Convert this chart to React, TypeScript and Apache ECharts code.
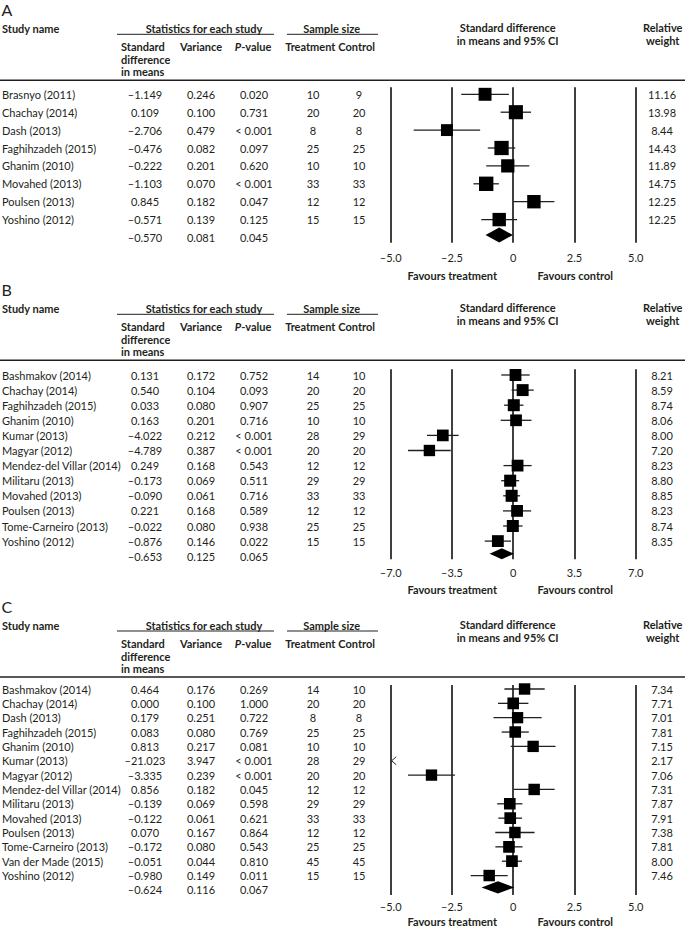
import React, { useEffect, useRef } from "react";
import * as echarts from "echarts";

// ---------------- Panel A ----------------
const studiesA = ["Brasnyo (2011)", "Chachay (2014)", "Dash (2013)", "Faghihzadeh (2015)", "Ghanim (2010)", "Movahed (2013)", "Poulsen (2013)", "Yoshino (2012)"];
const smdA = [-1.149, 0.109, -2.706, -0.476, -0.222, -1.103, 0.845, -0.571];
const varA = [0.246, 0.1, 0.479, 0.082, 0.201, 0.07, 0.182, 0.139];
const pA = ["0.020", "0.731", "< 0.001", "0.097", "0.620", "< 0.001", "0.047", "0.125"];
const treatA = [10, 20, 8, 25, 10, 33, 12, 15];
const ctrlA = [9, 20, 8, 25, 10, 33, 12, 15];
const weightA = [11.16, 13.98, 8.44, 14.43, 11.89, 14.75, 12.25, 12.25];
const summaryA = [-0.57, 0.081];
const summaryPA = "0.045";
const ticksA = [-5, -2.5, 0, 2.5, 5];
const tickLabelsA = ["–5.0", "–2.5", "0", "2.5", "5.0"];

// ---------------- Panel B ----------------
const studiesB = ["Bashmakov (2014)", "Chachay (2014)", "Faghihzadeh (2015)", "Ghanim (2010)", "Kumar (2013)", "Magyar (2012)", "Mendez-del Villar (2014)", "Militaru (2013)", "Movahed (2013)", "Poulsen (2013)", "Tome-Carneiro (2013)", "Yoshino (2012)"];
const smdB = [0.131, 0.54, 0.033, 0.163, -4.022, -4.789, 0.249, -0.173, -0.09, 0.221, -0.022, -0.876];
const varB = [0.172, 0.104, 0.08, 0.201, 0.212, 0.387, 0.168, 0.069, 0.061, 0.168, 0.08, 0.146];
const pB = ["0.752", "0.093", "0.907", "0.716", "< 0.001", "< 0.001", "0.543", "0.511", "0.716", "0.589", "0.938", "0.022"];
const treatB = [14, 20, 25, 10, 28, 20, 12, 29, 33, 12, 25, 15];
const ctrlB = [10, 20, 25, 10, 29, 20, 12, 29, 33, 12, 25, 15];
const weightB = [8.21, 8.59, 8.74, 8.06, 8.0, 7.2, 8.23, 8.8, 8.85, 8.23, 8.74, 8.35];
const summaryB = [-0.653, 0.125];
const summaryPB = "0.065";
const ticksB = [-7, -3.5, 0, 3.5, 7];
const tickLabelsB = ["–7.0", "–3.5", "0", "3.5", "7.0"];

// ---------------- Panel C ----------------
const studiesC = ["Bashmakov (2014)", "Chachay (2014)", "Dash (2013)", "Faghihzadeh (2015)", "Ghanim (2010)", "Kumar (2013)", "Magyar (2012)", "Mendez-del Villar (2014)", "Militaru (2013)", "Movahed (2013)", "Poulsen (2013)", "Tome-Carneiro (2013)", "Van der Made (2015)", "Yoshino (2012)"];
const smdC = [0.464, 0.0, 0.179, 0.083, 0.813, -21.023, -3.335, 0.856, -0.139, -0.122, 0.07, -0.172, -0.051, -0.98];
const varC = [0.176, 0.1, 0.251, 0.08, 0.217, 3.947, 0.239, 0.182, 0.069, 0.061, 0.167, 0.08, 0.044, 0.149];
const pC = ["0.269", "1.000", "0.722", "0.769", "0.081", "< 0.001", "< 0.001", "0.045", "0.598", "0.621", "0.864", "0.543", "0.810", "0.011"];
const treatC = [14, 20, 8, 25, 10, 28, 20, 12, 29, 33, 12, 25, 45, 15];
const ctrlC = [10, 20, 8, 25, 10, 29, 20, 12, 29, 33, 12, 25, 45, 15];
const weightC = [7.34, 7.71, 7.01, 7.81, 7.15, 2.17, 7.06, 7.31, 7.87, 7.91, 7.38, 7.81, 8.0, 7.46];
const summaryC = [-0.624, 0.116];
const summaryPC = "0.067";
const ticksC = [-5, -2.5, 0, 2.5, 5];
const tickLabelsC = ["–5.0", "–2.5", "0", "2.5", "5.0"];

const FONT = "Lato, 'Noto Sans', sans-serif";
const INK = "#231f20";
const F_ROW = `11px ${FONT}`;
const F_BOLD = `bold 11px ${FONT}`;
const F_ITAL = `italic bold 11px ${FONT}`;

const panels = [
  {
    letter: "A", studies: studiesA, smd: smdA, variance: varA, p: pA, treat: treatA, ctrl: ctrlA, weight: weightA,
    summary: summaryA, summaryP: summaryPA, ticks: ticksA, tickLabels: tickLabelsA, axisMin: -5, axisMax: 5, axisStep: 2.5,
    S: 28.3, rowStart: 94.3, rowStep: 17.9, gridTop: 87.3, gridBottom: 242.7, labelMargin: 9.5, favY: 275, diamondH: 15,
  },
  {
    letter: "B", studies: studiesB, smd: smdB, variance: varB, p: pB, treat: treatB, ctrl: ctrlB, weight: weightB,
    summary: summaryB, summaryP: summaryPB, ticks: ticksB, tickLabels: tickLabelsB, axisMin: -7, axisMax: 7, axisStep: 3.5,
    S: 308.3, rowStart: 375, rowStep: 15.1, gridTop: 369.3, gridBottom: 559.3, labelMargin: 8, favY: 589.3, diamondH: 11,
  },
  {
    letter: "C", studies: studiesC, smd: smdC, variance: varC, p: pC, treat: treatC, ctrl: ctrlC, weight: weightC,
    summary: summaryC, summaryP: summaryPC, ticks: ticksC, tickLabels: tickLabelsC, axisMin: -5, axisMax: 5, axisStep: 2.5,
    S: 625, rowStart: 689, rowStep: 14.35, gridTop: 685, gridBottom: 895, labelMargin: 6, favY: 921.7, diamondH: 12.3,
  },
];

const PLOT_LEFT = 390.7;
const PLOT_WIDTH = 245;

const fmt = (v: number) => (v < 0 ? "–" : "") + Math.abs(v).toFixed(3);

function txt(text: string, x: number, y: number, align: string, font: string, rich?: any) {
  const style: any = {
    text, align, verticalAlign: "middle", textAlign: align, textVerticalAlign: "middle", font, fill: INK,
  };
  if (rich) style.rich = rich;
  return { type: "text", x, y, silent: true, style };
}

function line(x1: number, y1: number, x2: number, y2: number, w: number) {
  return { type: "line", silent: true, shape: { x1, y1, x2, y2 }, style: { stroke: INK, lineWidth: w } };
}

function headerElements(p: any) {
  const S = p.S;
  return [
    txt(p.letter, 1.5, S - 19, "left", `16px ${FONT}`),
    txt("Study name", 2, S, "left", F_BOLD),
    txt("Statistics for each study", 204, S, "center", F_BOLD),
    line(117, S + 6, 274, S + 6, 1),
    txt("Sample size", 331.7, S, "center", F_BOLD),
    line(287, S + 6, 378, S + 6, 1),
    txt("Standard", 121, S + 18, "left", F_BOLD),
    txt("difference", 121, S + 31, "left", F_BOLD),
    txt("in means", 121, S + 43.5, "left", F_BOLD),
    txt("Variance", 201, S + 18, "center", F_BOLD),
    txt("{i|P}{n|-value}", 253, S + 18, "center", F_BOLD, { i: { font: F_ITAL, fill: INK }, n: { font: F_BOLD, fill: INK } }),
    txt("Treatment", 310.3, S + 18, "center", F_BOLD),
    txt("Control", 356.7, S + 18, "center", F_BOLD),
    txt("Standard difference", 507.7, S - 1, "center", F_BOLD),
    txt("in means and 95% CI", 507.7, S + 12, "center", F_BOLD),
    txt("Relative", 662.7, S - 1, "center", F_BOLD),
    txt("weight", 662.7, S + 12, "center", F_BOLD),
    line(0, S + 52, 685, S + 52, 1.4),
    txt("Favours treatment", 452.3, p.favY, "center", F_BOLD),
    txt("Favours control", 575.3, p.favY, "center", F_BOLD),
  ];
}

function makeRender(p: any) {
  return (params: any, api: any) => {
    const i = params.dataIndex;
    const n = p.studies.length;
    const est = api.value(0);
    const row = api.value(1);
    const y = api.coord([0, row])[1];
    const children: any[] = [];
    const cell = (text: string, x: number, align = "center") => children.push(txt(text, x, y, align, F_ROW));
    if (i < n) {
      cell(p.studies[i], 2, "left");
      cell(fmt(p.smd[i]), 145);
      cell(p.variance[i].toFixed(3), 201);
      cell(p.p[i], 254);
      cell(String(p.treat[i]), 313);
      cell(String(p.ctrl[i]), 359);
      cell(p.weight[i].toFixed(2), 662);
      const se = Math.sqrt(p.variance[i]);
      const lo = est - 1.96 * se;
      const hi = est + 1.96 * se;
      if (hi < p.axisMin) {
        const x0 = api.coord([p.axisMin, row])[0];
        children.push({
          type: "polyline", silent: true,
          shape: { points: [[x0 + 5.5, y - 4], [x0 + 1, y], [x0 + 5.5, y + 4]] },
          style: { stroke: INK, lineWidth: 1, fill: "none" },
        });
      } else {
        const xl = api.coord([Math.max(lo, p.axisMin), row])[0];
        const xh = api.coord([Math.min(hi, p.axisMax), row])[0];
        children.push(line(xl, y, xh, y, 1.3));
        const c = api.coord([est, row]);
        const s = 8.5 + (6 * p.weight[i]) / 15;
        children.push({
          type: "rect", silent: true,
          shape: { x: c[0] - s / 2, y: c[1] - s / 2, width: s, height: s },
          style: { fill: "#000" },
        });
      }
    } else {
      cell(fmt(p.summary[0]), 145);
      cell(p.summary[1].toFixed(3), 201);
      cell(p.summaryP, 254);
      const se = Math.sqrt(p.summary[1]);
      const lo = est - 1.96 * se;
      const hi = est + 1.96 * se;
      const yd = y - 2.5;
      const h = p.diamondH / 2;
      const xl = api.coord([lo, row])[0];
      const xh = api.coord([hi, row])[0];
      const xc = api.coord([est, row])[0];
      children.push({
        type: "polygon", silent: true,
        shape: { points: [[xl, yd], [xc, yd - h], [xh, yd], [xc, yd + h]] },
        style: { fill: "#000" },
      });
    }
    return { type: "group", children };
  };
}

function buildOption() {
  const grid: any[] = [];
  const xAxis: any[] = [];
  const yAxis: any[] = [];
  const series: any[] = [];
  const graphics: any[] = [];
  panels.forEach((p, k) => {
    const n = p.studies.length;
    const last = p.rowStart + n * p.rowStep;
    grid.push({ left: PLOT_LEFT, width: PLOT_WIDTH, top: p.gridTop, height: p.gridBottom - p.gridTop, containLabel: false });
    xAxis.push({
      type: "value", gridIndex: k, min: p.axisMin, max: p.axisMax, interval: p.axisStep,
      axisLine: { show: false }, axisTick: { show: false },
      splitLine: { show: true, showMinLine: true, showMaxLine: true, lineStyle: { color: "#000", width: 1.5 } },
      axisLabel: {
        margin: p.labelMargin, fontSize: 11, fontFamily: FONT, color: INK,
        formatter: (v: number) => {
          const idx = p.ticks.findIndex((t: number) => Math.abs(t - v) < 1e-9);
          return idx >= 0 ? p.tickLabels[idx] : "";
        },
      },
    });
    yAxis.push({
      type: "value", gridIndex: k, inverse: true, show: false,
      min: -(p.rowStart - p.gridTop) / p.rowStep,
      max: n + (p.gridBottom - last) / p.rowStep,
      splitLine: { show: false },
    });
    const data = p.smd.map((v: number, i: number) => [v, i]);
    data.push([p.summary[0], n]);
    series.push({
      type: "custom", coordinateSystem: "cartesian2d", xAxisIndex: k, yAxisIndex: k,
      clip: false, silent: true, encode: { x: 0, y: 1 },
      renderItem: makeRender(p), data,
    });
    graphics.push(...headerElements(p));
  });
  return {
    animation: false,
    backgroundColor: "#fff",
    textStyle: { fontFamily: FONT },
    grid, xAxis, yAxis, series,
    graphic: { elements: graphics },
  };
}

export default function App() {
  const ref = useRef<HTMLDivElement>(null);
  useEffect(() => {
    if (!ref.current) return;
    const chart = echarts.init(ref.current, undefined, { renderer: "svg" });
    chart.setOption(buildOption() as any);
    return () => chart.dispose();
  }, []);
  return <div ref={ref} style={{ position: "fixed", left: 0, top: 0, width: 685, height: 931, background: "#fff" }} />;
}
